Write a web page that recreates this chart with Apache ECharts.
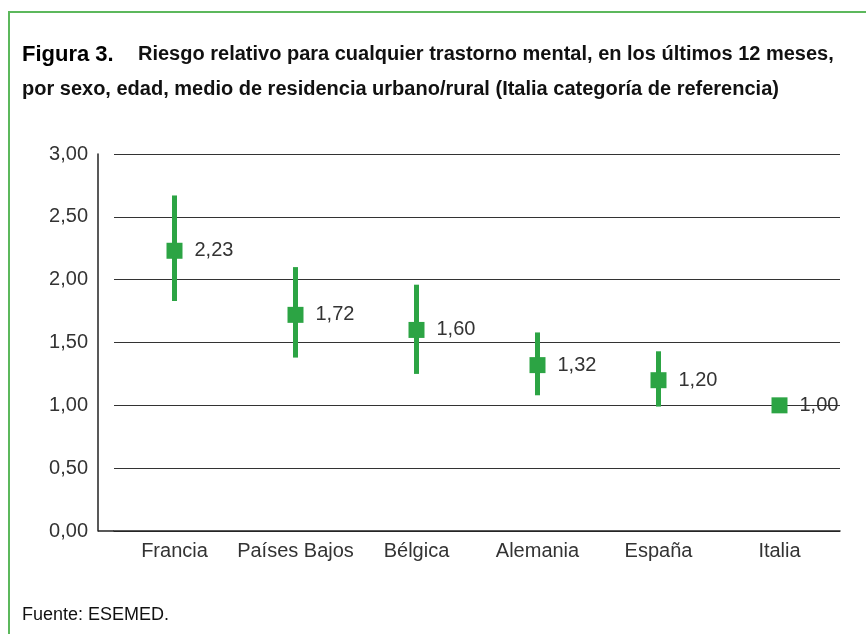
<!DOCTYPE html>
<html>
<head>
<meta charset="utf-8">
<script src="https://cdn.jsdelivr.net/npm/echarts@6/dist/echarts.min.js"></script>
<style>
  html, body { margin: 0; padding: 0; background: #fff; }
  #chart { width: 866px; height: 634px; }
</style>
</head>
<body>
<div id="chart"></div>
<script>
  // data
  const countries = ['Francia', 'Países Bajos', 'Bélgica', 'Alemania', 'España', 'Italia'];
  const riesgo = [2.23, 1.72, 1.60, 1.32, 1.20, 1.00];
  const icLow = [1.83, 1.38, 1.25, 1.08, 0.99, 1.00];
  const icHigh = [2.67, 2.10, 1.96, 1.58, 1.43, 1.00];

  const green = '#2ca444';
  const fmt = (v) => v.toFixed(2).replace('.', ',');

  const myChart = echarts.init(document.getElementById('chart'));

  const option = {
    backgroundColor: '#fff',
    animation: false,
    textStyle: { fontFamily: 'Liberation Sans, Arial, sans-serif' },
    title: [
      {
        left: 22,
        top: 37,
        padding: 0,
        text:
          '{a|Figura 3.}{b|Riesgo relativo para cualquier trastorno mental, en los últimos 12 meses,}\n' +
          '{b|por sexo, edad, medio de residencia urbano/rural (Italia categoría de referencia)}',
        textStyle: {
          rich: {
            a: { fontSize: 22, fontWeight: 900, color: '#000', fontFamily: 'Liberation Sans', lineHeight: 35, width: 116 },
            b: { fontSize: 20, fontWeight: 'bold', color: '#111', fontFamily: 'Liberation Sans', lineHeight: 35 },
          },
        },
      },
      {
        left: 22,
        top: 606,
        padding: 0,
        text: 'Fuente: ESEMED.',
        textStyle: { fontSize: 18, fontWeight: 'normal', color: '#111', fontFamily: 'Liberation Sans' },
      },
    ],
    grid: { left: 114, right: 26, top: 154, bottom: 103 },
    xAxis: {
      type: 'category',
      data: countries,
      axisLine: { show: true, lineStyle: { color: '#222', width: 1.5 } },
      axisTick: { show: false },
      axisLabel: { color: '#333', fontSize: 20, margin: 10, interval: 0 },
      splitLine: { show: false },
    },
    yAxis: {
      type: 'value',
      min: 0,
      max: 3,
      interval: 0.5,
      offset: 16,
      axisLine: { show: true, lineStyle: { color: '#222', width: 1.5 } },
      axisTick: { show: false },
      axisLabel: { color: '#333', fontSize: 20, margin: 10, formatter: fmt },
      splitLine: { show: true, lineStyle: { color: '#333', width: 1.2 } },
    },
    series: [
      {
        type: 'custom',
        data: countries.map((c, i) => [i, icLow[i], icHigh[i]]),
        renderItem: (params, api) => {
          const lo = api.coord([api.value(0), api.value(1)]);
          const hi = api.coord([api.value(0), api.value(2)]);
          return {
            type: 'line',
            shape: { x1: lo[0], y1: lo[1], x2: hi[0], y2: hi[1] },
            style: { stroke: green, lineWidth: 5 },
          };
        },
        z: 3,
      },
      {
        type: 'scatter',
        data: riesgo.map((v, i) => [i, v]),
        symbol: 'rect',
        symbolSize: 16,
        itemStyle: { color: green, opacity: 1 },
        label: {
          show: true,
          position: 'right',
          distance: 12,
          color: '#333',
          fontSize: 20,
          formatter: (p) => fmt(p.value[1]),
        },
        z: 4,
      },
    ],
  };
  myChart.setOption(option);

  // green frame and the short piece of the base line left of the grid
  const base = myChart.convertToPixel({ gridIndex: 0 }, [0, 0]);
  myChart.setOption({
    graphic: [
      { type: 'line', shape: { x1: 8, y1: 12, x2: 866, y2: 12 }, style: { stroke: '#5cb85c', lineWidth: 2 } },
      { type: 'line', shape: { x1: 9, y1: 11, x2: 9, y2: 634 }, style: { stroke: '#5cb85c', lineWidth: 2 } },
      { type: 'line', shape: { x1: 98, y1: base[1], x2: 114, y2: base[1] }, style: { stroke: '#222', lineWidth: 1.5 } },
    ],
  });
</script>
</body>
</html>
